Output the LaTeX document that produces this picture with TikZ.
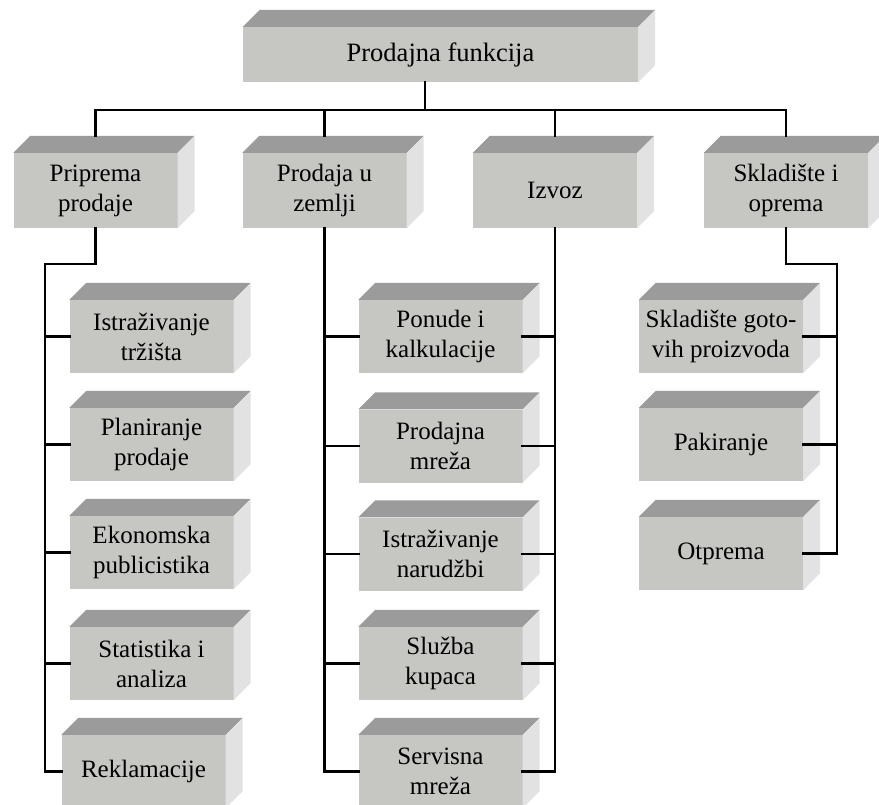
\documentclass[tikz,border=0pt]{standalone}
\usepackage{fontspec}
\setmainfont{Liberation Serif}
\usepackage{tikz}
\usetikzlibrary{calc}

\definecolor{prednja}{RGB}{198,198,194}
\definecolor{gornja}{RGB}{155,155,155}
\definecolor{bocna}{RGB}{226,226,226}

\tikzset{
  blok/.style={fill=prednja, inner sep=0pt, align=center,
    minimum width=164pt, minimum height=73pt,
    font=\fontsize{25}{30}\selectfont},
  veza/.style={line width=2.6pt, line cap=rect},
}

\begin{document}
\begin{tikzpicture}[x=1pt, y=-1pt]
            \useasboundingbox (0,0) rectangle (879,805);

            % vrh
            \node[blok, minimum width=395pt, minimum height=55pt, font=\fontsize{26.5}{30}\selectfont] (pf) at (440.5,54.5) {Prodajna funkcija};

            % drugi nivo
            \node[blok, minimum height=75pt] (pp) at (95.5,190.5) {Priprema\\prodaje};
            \node[blok, minimum height=75pt] (pz) at (324.5,190.5) {Prodaja u\\zemlji};
            \node[blok, minimum height=75pt] (iz) at (555,190.5) {Izvoz};
            \node[blok, minimum height=75pt] (so) at (786,190.5) {Skladište i\\oprema};

            % lijevo
            \node[blok] (a1) at (151.5,336.5) {Istraživanje\\tržišta};
            \node[blok] (a2) at (151.5,444.5) {Planiranje\\prodaje};
            \node[blok] (a3) at (151.5,552.5) {Ekonomska\\publicistika};
            \node[blok] (a4) at (151.5,663.5) {Statistika i\\analiza};
            \node[blok] (a5) at (143.5,771.5) {Reklamacije};

            % sredina
            \node[blok] (b1) at (440.5,336.5) {Ponude i\\kalkulacije};
            \node[blok] (b2) at (440.5,446) {Prodajna\\mreža};
            \node[blok] (b3) at (440.5,554) {Istraživanje\\narudžbi};
            \node[blok] (b4) at (440.5,663.5) {Služba\\kupaca};
            \node[blok] (b5) at (440.5,771.5) {Servisna\\mreža};

            % desno
            \node[blok] (c1) at (721,336.5) {Skladište goto-\\vih proizvoda};
            \node[blok] (c2) at (721,444.5) {Pakiranje};
            \node[blok] (c3) at (721,553.5) {Otprema};

            % 3D strane
            \foreach \n in {pf,pp,pz,iz,so,a1,a2,a3,a4,a5,b1,b2,b3,b4,b5,c1,c2,c3} {
              \fill[gornja] (\n.north west) -- ++(17,-17) -- ([shift={(17,-17)}]\n.north east) -- (\n.north east) -- cycle;
              \fill[bocna] (\n.north east) -- ++(17,-17) -- ([shift={(17,-17)}]\n.south east) -- (\n.south east) -- cycle;
            }

            \coordinate (raz) at (425,110);
            \coordinate (lv) at (45,264);
            \coordinate (dv) at (837,264);

            % veze
            \draw[veza] (pf.south -| raz) -- (raz);
            \draw[veza] ([yshift=17pt]pp.north) -- (pp.north |- raz) -- (so.north |- raz) -- ([yshift=17pt]so.north);
            \draw[veza] ([yshift=17pt]pz.north) -- (pz.north |- raz);
            \draw[veza] ([yshift=17pt]iz.north) -- (iz.north |- raz);

            \draw[veza] (pp.south) |- (lv) -- (lv |- a5.west) -- (a5.west);
            \draw[veza] (lv |- a1.west) -- (a1.west);
            \draw[veza] (lv |- a2.west) -- (a2.west);
            \draw[veza] (lv |- a3.west) -- (a3.west);
            \draw[veza] (lv |- a4.west) -- (a4.west);

            \draw[veza] (pz.south) -- (pz.south |- b5.west) -- (b5.west);
            \draw[veza] (pz.south |- b1.west) -- (b1.west);
            \draw[veza] (pz.south |- b2.west) -- (b2.west);
            \draw[veza] (pz.south |- b3.west) -- (b3.west);
            \draw[veza] (pz.south |- b4.west) -- (b4.west);

            \draw[veza] (iz.south) -- (iz.south |- b5.east) -- (b5.east);
            \draw[veza] (iz.south |- b1.east) -- (b1.east);
            \draw[veza] (iz.south |- b2.east) -- (b2.east);
            \draw[veza] (iz.south |- b3.east) -- (b3.east);
            \draw[veza] (iz.south |- b4.east) -- (b4.east);

            \draw[veza] (so.south) |- (dv) -- (dv |- c3.east) -- (c3.east);
            \draw[veza] (dv |- c1.east) -- (c1.east);
            \draw[veza] (dv |- c2.east) -- (c2.east);
        \end{tikzpicture}
\end{document}
